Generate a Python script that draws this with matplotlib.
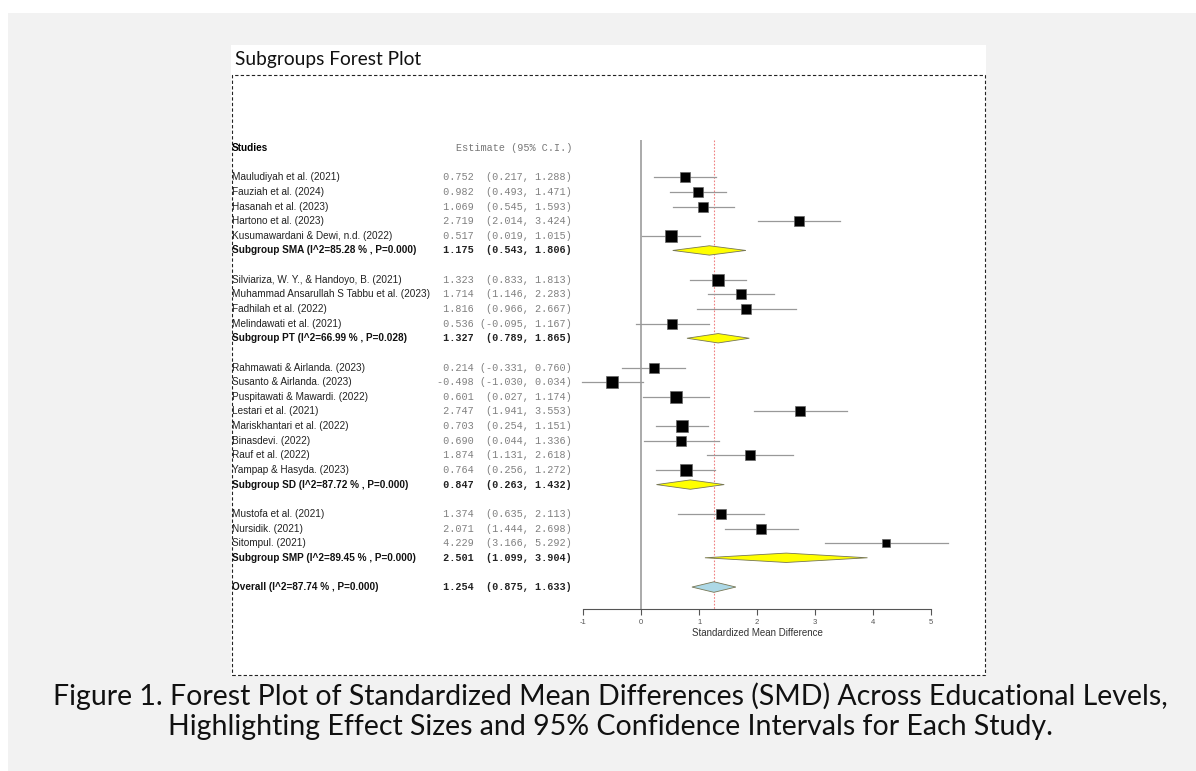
import matplotlib
matplotlib.use("Agg")
import matplotlib.pyplot as plt
from matplotlib.patches import Rectangle, Polygon
from matplotlib.transforms import blended_transform_factory

# Study-level data, grouped by educational level
groups = ["SMA", "PT", "SD", "SMP"]

studies = {
    "SMA": ["Mauludiyah et al. (2021)", "Fauziah et al. (2024)", "Hasanah et al. (2023)",
            "Hartono et al. (2023)", "Kusumawardani & Dewi, n.d. (2022)"],
    "PT": ["Silviariza, W. Y., & Handoyo, B. (2021)", "Muhammad Ansarullah S Tabbu et al. (2023)",
           "Fadhilah et al. (2022)", "Melindawati et al. (2021)"],
    "SD": ["Rahmawati & Airlanda. (2023)", "Susanto & Airlanda. (2023)",
           "Puspitawati & Mawardi. (2022)", "Lestari et al. (2021)",
           "Mariskhantari et al. (2022)", "Binasdevi. (2022)", "Rauf et al. (2022)",
           "Yampap & Hasyda. (2023)"],
    "SMP": ["Mustofa et al. (2021)", "Nursidik. (2021)", "Sitompul. (2021)"],
}
estimates = {
    "SMA": [0.752, 0.982, 1.069, 2.719, 0.517],
    "PT": [1.323, 1.714, 1.816, 0.536],
    "SD": [0.214, -0.498, 0.601, 2.747, 0.703, 0.690, 1.874, 0.764],
    "SMP": [1.374, 2.071, 4.229],
}
lower = {
    "SMA": [0.217, 0.493, 0.545, 2.014, 0.019],
    "PT": [0.833, 1.146, 0.966, -0.095],
    "SD": [-0.331, -1.030, 0.027, 1.941, 0.254, 0.044, 1.131, 0.256],
    "SMP": [0.635, 1.444, 3.166],
}
upper = {
    "SMA": [1.288, 1.471, 1.593, 3.424, 1.015],
    "PT": [1.813, 2.283, 2.667, 1.167],
    "SD": [0.760, 0.034, 1.174, 3.553, 1.151, 1.336, 2.618, 1.272],
    "SMP": [2.113, 2.698, 5.292],
}
# approximate study weights (%)
weights = {
    "SMA": [5.0, 5.2, 5.2, 4.5, 5.4],
    "PT": [5.4, 5.0, 4.3, 4.7],
    "SD": [5.0, 5.4, 5.4, 4.5, 5.7, 4.5, 4.7, 5.5],
    "SMP": [5.0, 5.0, 3.9],
}
# subgroup summaries: estimate, lower, upper, I^2, P
sub_est = [1.175, 1.327, 0.847, 2.501]
sub_lo = [0.543, 0.789, 0.263, 1.099]
sub_hi = [1.806, 1.865, 1.432, 3.904]
sub_i2 = [85.28, 66.99, 87.72, 89.45]
sub_p = [0.000, 0.028, 0.000, 0.000]

overall = (1.254, 0.875, 1.633)
overall_i2 = 87.74
overall_p = 0.000

x_ticks = [-1, 0, 1, 2, 3, 4, 5]

W, H = 1196, 771


def fx(x):
    return x / W


def fy(y):
    return 1 - y / H


fig = plt.figure(figsize=(W / 100, H / 100), dpi=100)
fig.patch.set_facecolor("white")

# page background and plot panel
fig.patches.append(Rectangle((fx(8), 0), 1 - fx(8), fy(13), transform=fig.transFigure,
                             facecolor="#f2f2f2", edgecolor="none", zorder=-3))
fig.patches.append(Rectangle((fx(231), fy(676)), fx(986 - 231), (676 - 45) / H,
                             transform=fig.transFigure, facecolor="white",
                             edgecolor="none", zorder=-2))
fig.patches.append(Rectangle((fx(231.5), fy(675)), fx(985 - 231.5), (675 - 75) / H,
                             transform=fig.transFigure, facecolor="none",
                             edgecolor="#222222", lw=0.8, ls=(0, (3, 2)), zorder=-1))

fig.text(fx(235), fy(60), "Subgroups Forest Plot", fontsize=13.8, family="Lato",
         color="#111111", va="center", ha="left")

# forest axes: row 0 is the header
ax = fig.add_axes([fx(583.3), fy(609), fx(931 - 583.3), (609 - 126.05) / H])
ax.set_zorder(5)
ax.set_xlim(-1, 5)
ax.set_ylim(31.5, -1.5)
ax.patch.set_alpha(0)
for s in ["top", "right", "left"]:
    ax.spines[s].set_visible(False)
ax.spines["bottom"].set_color("#555555")
ax.spines["bottom"].set_linewidth(0.8)
ax.set_yticks([])
ax.set_xticks(x_ticks)
ax.set_xticklabels([str(t) for t in x_ticks], fontsize=5.5, color="#555555",
                   family="Liberation Sans")
ax.tick_params(axis="x", length=4, width=0.8, color="#555555", pad=3)
ax.set_xlabel("Standardized Mean Difference", fontsize=7, color="#333333",
              family="Liberation Sans", labelpad=1.5)

trans = blended_transform_factory(fig.transFigure, ax.transData)
name_x = fx(232)
est_x = fx(572)

name_font = dict(family="Liberation Sans", fontsize=7.2, va="center", ha="left")
mono_font = dict(family="Liberation Mono", fontsize=7.3, va="center", ha="right")


def est_text(e, lo, hi):
    return f"{e:.3f}".rjust(6) + " " + f"({lo:.3f}, {hi:.3f})".rjust(15)


ax.text(name_x, 0, "Studies", transform=trans, fontweight="bold", color="black", **name_font)
ax.text(est_x, 0, "Estimate (95% C.I.)", transform=trans, color="#777777", **mono_font)


def diamond(e, lo, hi, y, color, h=0.32):
    ax.add_patch(Polygon([(lo, y), (e, y - h), (hi, y), (e, y + h)], closed=True,
                         facecolor=color, edgecolor="#777755", lw=0.6, zorder=3,
                         clip_on=False))


row = 2
for gi, g in enumerate(groups):
    for name, e, lo, hi, w in zip(studies[g], estimates[g], lower[g], upper[g], weights[g]):
        ax.text(name_x, row, name, transform=trans, color="#222222", **name_font)
        ax.text(est_x, row, est_text(e, lo, hi), transform=trans, color="#808080", **mono_font)
        ax.plot([lo, hi], [row, row], color="#999999", lw=0.9, zorder=2, clip_on=False)
        ax.plot(e, row, marker="s", ms=w * 2.1 * 0.72, color="black", mec="#666666",
                mew=0.5, zorder=4, clip_on=False)
        row += 1
    label = f"Subgroup {g} (I^2={sub_i2[gi]:.2f} % , P={sub_p[gi]:.3f})"
    ax.text(name_x, row, label, transform=trans, fontweight="bold", color="#111111", **name_font)
    ax.text(est_x, row, est_text(sub_est[gi], sub_lo[gi], sub_hi[gi]), transform=trans,
            fontweight="bold", color="#222222", **mono_font)
    diamond(sub_est[gi], sub_lo[gi], sub_hi[gi], row, "#ffff00")
    row += 2

label = f"Overall (I^2={overall_i2:.2f} % , P={overall_p:.3f})"
ax.text(name_x, row, label, transform=trans, fontweight="bold", color="#111111", **name_font)
ax.text(est_x, row, est_text(*overall), transform=trans, fontweight="bold",
        color="#222222", **mono_font)
diamond(*overall, row, "#add8e6", h=0.36)

# reference lines
ax.vlines(0, -0.55, 31.5, color="#aaaaaa", lw=1.4, zorder=1)
ax.vlines(overall[0], -0.55, 31.5, color="#f08080", lw=0.8, ls=(0, (1.5, 1.5)), zorder=1)

caption = ("Figure 1. Forest Plot of Standardized Mean Differences (SMD) Across Educational Levels,\n"
           "Highlighting Effect Sizes and 95% Confidence Intervals for Each Study.")
fig.text(fx(610), fy(711), caption, ha="center", va="center", fontsize=20.5, family="Lato",
         color="#111111", linespacing=1.2)

fig.savefig("out.png", dpi=100)
